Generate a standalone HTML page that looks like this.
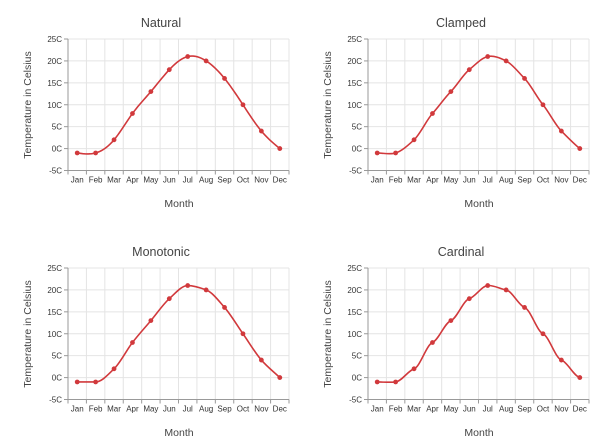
<!DOCTYPE html><html><head><style>body{margin:0;background:#fff}svg{display:block;font-family:"Segoe UI","Liberation Sans",sans-serif}</style></head><body>
<svg id="s" width="615" height="443" xmlns="http://www.w3.org/2000/svg"></svg>
<script>
const d=[-1,-1,2,8,13,18,21,20,16,10,4,0],m=["Jan","Feb","Mar","Apr","May","Jun","Jul","Aug","Sep","Oct","Nov","Dec"];
const titles=["Natural","Clamped","Monotonic","Cardinal"];
let h="";
function natural(p){
 const n=p.length-1,a=p.map(q=>q[1]),x=p.map(q=>q[0]),hh=[],al=[0],l=[1],mu=[0],z=[0],c=new Array(n+1).fill(0),b=[],dd=[];
 for(let i=0;i<n;i++)hh.push(x[i+1]-x[i]);
 for(let i=1;i<n;i++)al.push(3/hh[i]*(a[i+1]-a[i])-3/hh[i-1]*(a[i]-a[i-1]));
 for(let i=1;i<n;i++){l[i]=2*(x[i+1]-x[i-1])-hh[i-1]*mu[i-1];mu[i]=hh[i]/l[i];z[i]=(al[i]-hh[i-1]*z[i-1])/l[i];}
 for(let j=n-1;j>=0;j--){c[j]=z[j]-mu[j]*c[j+1];b[j]=(a[j+1]-a[j])/hh[j]-hh[j]*(c[j+1]+2*c[j])/3;dd[j]=(c[j+1]-c[j])/(3*hh[j]);}
 let s="M"+x[0]+","+a[0];
 for(let j=0;j<n;j++)for(let t=1;t<=10;t++){const u=hh[j]*t/10;s+=" L"+(x[j]+u).toFixed(2)+","+(a[j]+b[j]*u+c[j]*u*u+dd[j]*u*u*u).toFixed(2);}
 return s;}
function hermite(p,tg){let s="M"+p[0][0]+","+p[0][1];for(let i=0;i<p.length-1;i++){const dx=p[i+1][0]-p[i][0];s+=` C${p[i][0]+dx/3},${p[i][1]+tg[i]*dx/3} ${p[i+1][0]-dx/3},${p[i+1][1]-tg[i+1]*dx/3} ${p[i+1][0]},${p[i+1][1]}`;}return s;}
function mono(p){const n=p.length,sl=[],t=[];for(let i=0;i<n-1;i++)sl.push((p[i+1][1]-p[i][1])/(p[i+1][0]-p[i][0]));
 for(let i=0;i<n;i++){if(i==0)t.push(sl[0]);else if(i==n-1)t.push(sl[n-2]);else{const a=sl[i-1],b=sl[i];t.push(a*b<=0?0:2/(1/a+1/b));}}return hermite(p,t);}
function card(p,k){const n=p.length,t=[];for(let i=0;i<n;i++){const a=p[Math.max(0,i-1)],b=p[Math.min(n-1,i+1)];t.push(k*(b[1]-a[1])/(b[0]-a[0]));}return hermite(p,t);}
titles.forEach((ti,k)=>{const ox=(k%2)*300,oy=Math.floor(k/2)*229;
 const L=68+ox,R=289+ox,T=39+oy,B=170.5+oy,st=(B-T)/6,bw=(R-L)/12;
 h+=`<text x="${161+ox}" y="${27+oy}" text-anchor="middle" font-size="12.5" fill="#444">${ti}</text>`;
 for(let i=0;i<=6;i++){const y=T+i*st;h+=`<line x1="${L}" x2="${R}" y1="${y}" y2="${y}" stroke="#e4e4e4"/><line x1="${L-4}" x2="${L}" y1="${y}" y2="${y}" stroke="#999"/><text x="${L-6}" y="${y+3}" text-anchor="end" font-size="8" fill="#333">${25-5*i}C</text>`;}
 for(let i=0;i<=12;i++){const x=L+i*bw;h+=`<line x1="${x}" x2="${x}" y1="${T}" y2="${B}" stroke="#e4e4e4"/><line x1="${x}" x2="${x}" y1="${B}" y2="${B+4}" stroke="#999"/>`;}
 m.forEach((s,i)=>h+=`<text x="${L+(i+.5)*bw}" y="${B+12}" text-anchor="middle" font-size="8" fill="#333">${s}</text>`);
 h+=`<line x1="${L}" x2="${L}" y1="${T}" y2="${B}" stroke="#999"/><line x1="${L}" x2="${R}" y1="${B}" y2="${B}" stroke="#999"/>`;
 h+=`<text x="${179+ox}" y="${207+oy}" text-anchor="middle" font-size="10.5" fill="#444">Month</text>`;
 h+=`<text transform="translate(${31+ox},${105+oy}) rotate(-90)" text-anchor="middle" font-size="10.5" fill="#444">Temperature in Celsius</text>`;
 const p=d.map((v,i)=>[L+(i+.5)*bw,T+(25-v)/5*st]);
 const path=k==0?natural(p):k==1?card(p,0.85):k==2?mono(p):card(p,0.3);
 h+=`<path d="${path}" fill="none" stroke="#d1393c" stroke-width="1.6"/>`;
 p.forEach(q=>h+=`<circle cx="${q[0]}" cy="${q[1]}" r="2.4" fill="#d1393c"/>`);
});
document.getElementById("s").innerHTML=h;
</script></body></html>
